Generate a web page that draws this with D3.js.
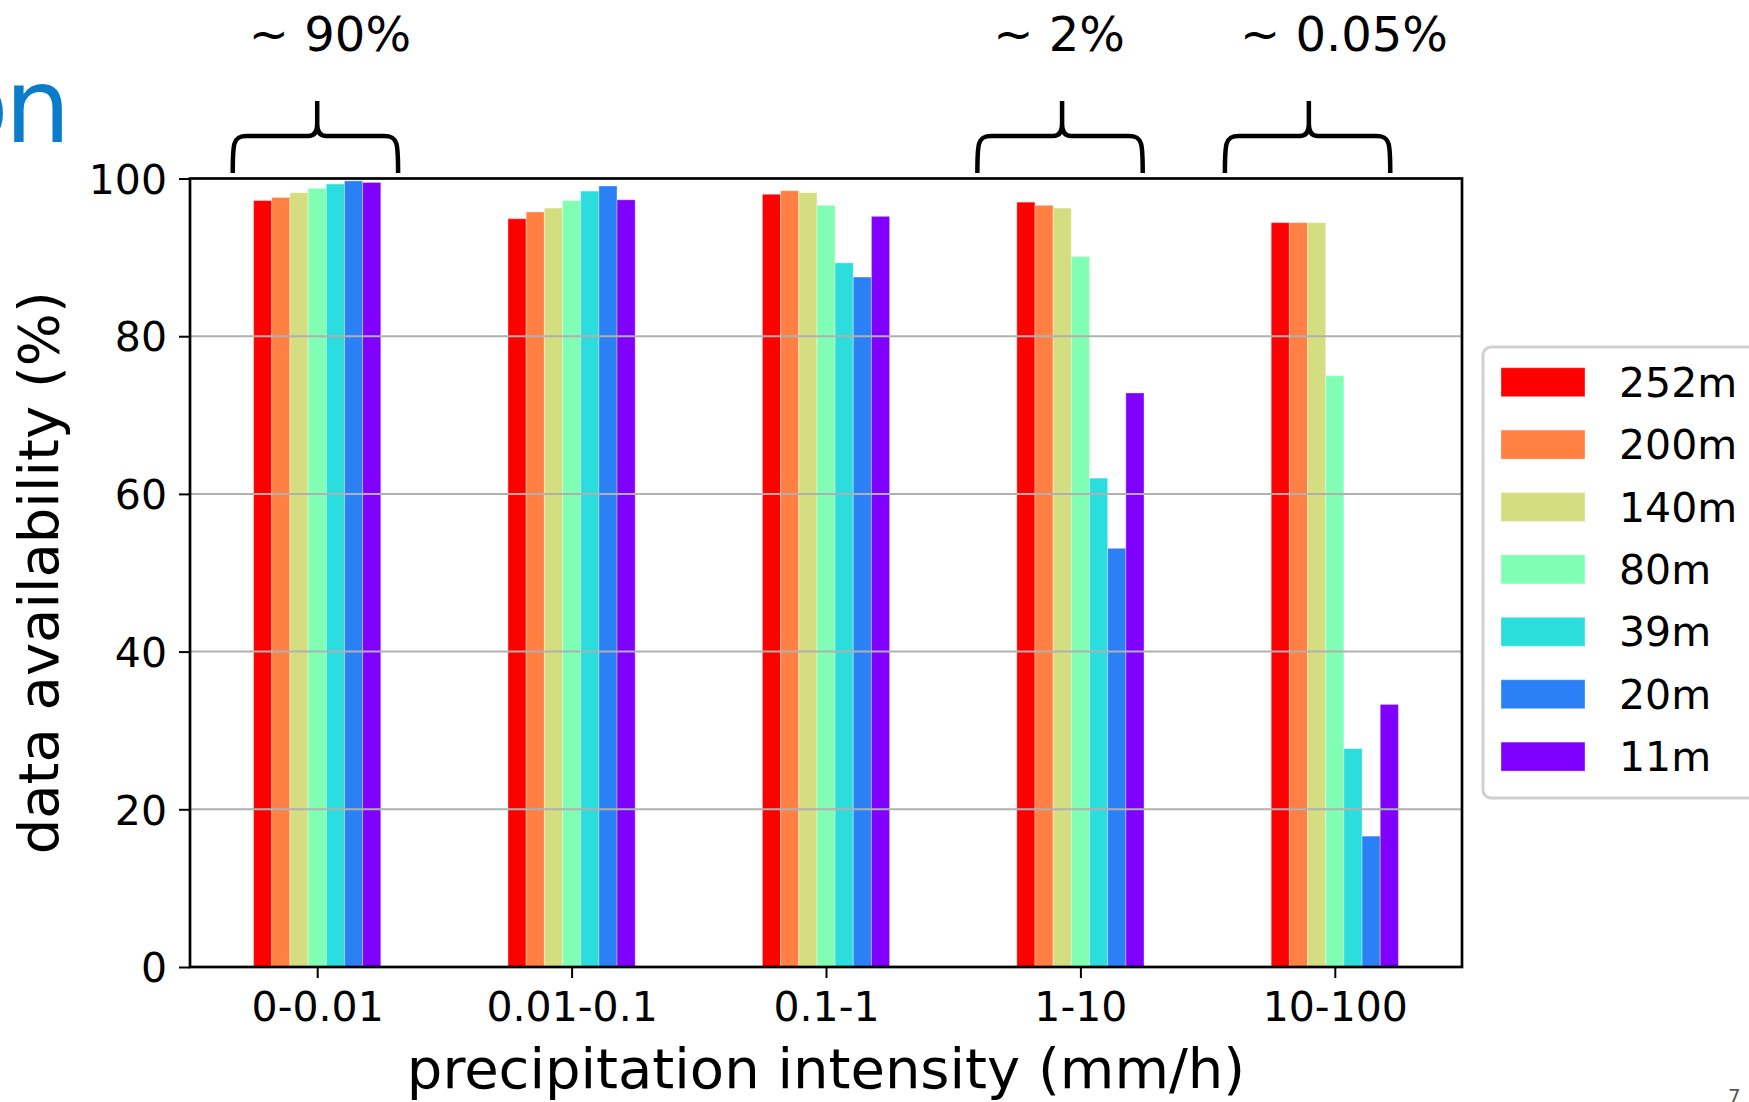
<!DOCTYPE html>
<html>
<head>
<meta charset="utf-8">
<script src="https://cdn.jsdelivr.net/npm/d3@7"></script>
<style>
  html, body { margin: 0; padding: 0; background: #fff; }
  svg { display: block; font-family: "DejaVu Sans", sans-serif; }
</style>
</head>
<body>
<svg id="chart" width="1749" height="1102"></svg>
<script>
// Precipitation-intensity classes on the x axis
const categories = ["0-0.01", "0.01-0.1", "0.1-1", "1-10", "10-100"];

// Measurement heights (one bar per height in each class)
const heights = ["252m", "200m", "140m", "80m", "39m", "20m", "11m"];

// Data availability (%) per height, one value per intensity class
const avail252 = [97.2, 94.9, 98.0, 97.0, 94.4];
const avail200 = [97.6, 95.75, 98.45, 96.6, 94.4];
const avail140 = [98.2, 96.25, 98.2, 96.25, 94.4];
const avail80  = [98.75, 97.2, 96.6, 90.1, 75.0];
const avail39  = [99.3, 98.4, 89.3, 62.0, 27.7];
const avail20  = [99.7, 99.05, 87.5, 53.1, 16.6];
const avail11  = [99.5, 97.3, 95.2, 72.8, 33.3];
const series = [avail252, avail200, avail140, avail80, avail39, avail20, avail11];

// y tick values
const yTicks = [0, 20, 40, 60, 80, 100];

// Share of time in each class, shown above the plot with a brace
const shareLabels = ["~ 90%", "~ 2%", "~ 0.05%"];
const shareCenters = [-0.007, 2.92, 3.893];   // brace centre (class units)
const shareTips = [0.0, 2.928, 3.898];        // brace tip (class units)
const shareTextPos = [0.05, 2.916, 4.036];    // label centre (class units)

// Matplotlib "rainbow" colours, red at the top height
const colors = ["#ff0000", "#ff8042", "#d4dd80", "#80ffb4", "#2bdddd", "#2b80f6", "#8000ff"];

const svg = d3.select("#chart");
const plot = { left: 190, right: 1462, top: 178.5, bottom: 967 };

const x = d3.scaleLinear().domain([-0.5, categories.length - 0.5]).range([plot.left, plot.right]);
const y = d3.scaleLinear().domain([0, 100]).range([plot.bottom, plot.top]);
const groupWidth = 0.5;
const barW = groupWidth / heights.length;

// partial slide title in the top-left corner
svg.append("text")
  .attr("x", -55).attr("y", 142)
  .attr("font-size", 104)
  .attr("letter-spacing", -4)
  .attr("fill", "#0a7cc9")
  .text("on");

// bars
const barG = svg.append("g");
series.forEach((vals, si) => {
  barG.selectAll(null)
    .data(vals)
    .enter().append("rect")
    .attr("x", (d, ci) => x(ci + (si - (heights.length - 1) / 2) * barW - barW / 2))
    .attr("width", x(barW) - x(0))
    .attr("y", d => y(d))
    .attr("height", d => y(0) - y(d))
    .attr("fill", colors[si])
    .attr("stroke", "#ffffff")
    .attr("stroke-opacity", 0.35)
    .attr("stroke-width", 1);
});

// horizontal grid over the bars
svg.append("g")
  .selectAll("line")
  .data(yTicks.filter(t => t > 0 && t < 100))
  .enter().append("line")
  .attr("x1", plot.left).attr("x2", plot.right)
  .attr("y1", d => y(d)).attr("y2", d => y(d))
  .attr("stroke", "#b0b0b0")
  .attr("stroke-width", 2);

// frame
svg.append("rect")
  .attr("x", plot.left).attr("y", plot.top)
  .attr("width", plot.right - plot.left).attr("height", plot.bottom - plot.top)
  .attr("fill", "none").attr("stroke", "#000").attr("stroke-width", 2.7);

// y axis
const yAxis = svg.append("g")
  .attr("transform", `translate(${plot.left},0)`)
  .call(d3.axisLeft(y).tickValues(yTicks).tickSize(11).tickPadding(12).tickFormat(d3.format("d")));
yAxis.select(".domain").remove();
yAxis.selectAll(".tick line").attr("stroke", "#000").attr("stroke-width", 2);
yAxis.selectAll(".tick text").attr("font-size", 41).attr("fill", "#000")
  .attr("font-family", "DejaVu Sans, sans-serif").attr("dy", "0.36em");

// x axis
const xAxis = svg.append("g")
  .attr("transform", `translate(0,${plot.bottom})`)
  .call(d3.axisBottom(x).tickValues(d3.range(categories.length)).tickSize(11).tickPadding(14)
    .tickFormat(i => categories[i]));
xAxis.select(".domain").remove();
xAxis.selectAll(".tick line").attr("stroke", "#000").attr("stroke-width", 2);
xAxis.selectAll(".tick text").attr("font-size", 41).attr("fill", "#000")
  .attr("font-family", "DejaVu Sans, sans-serif").attr("dy", "0.71em");

// axis titles
svg.append("text")
  .attr("x", (plot.left + plot.right) / 2).attr("y", 1088)
  .attr("text-anchor", "middle").attr("font-size", 56)
  .text("precipitation intensity (mm/h)");
svg.append("text")
  .attr("transform", `translate(58,${(plot.top + plot.bottom) / 2}) rotate(-90)`)
  .attr("text-anchor", "middle").attr("font-size", 56)
  .text("data availability (%)");

// braces with shares
const halfBrace = 0.325;
const yTipTop = 101, yBar = 136, yEnd = 173;
function bracePath(l, r, t) {
  const c = 14;
  return `M${l},${yEnd} C${l},${yBar + 8} ${l},${yBar} ${l + c},${yBar} ` +
         `L${t - 9},${yBar} Q${t},${yBar} ${t},${yBar - 12} L${t},${yTipTop} ` +
         `M${t},${yBar - 12} Q${t},${yBar} ${t + 9},${yBar} ` +
         `L${r - c},${yBar} C${r},${yBar} ${r},${yBar + 8} ${r},${yEnd}`;
}
shareLabels.forEach((lab, i) => {
  svg.append("path")
    .attr("d", bracePath(x(shareCenters[i] - halfBrace), x(shareCenters[i] + halfBrace), x(shareTips[i])))
    .attr("fill", "none").attr("stroke", "#000").attr("stroke-width", 4.5)
    .attr("stroke-linejoin", "round");
  svg.append("text")
    .attr("x", x(shareTextPos[i])).attr("y", 51)
    .attr("text-anchor", "middle").attr("font-size", 48)
    .text(lab);
});

// legend
const lg = svg.append("g");
lg.append("rect")
  .attr("x", 1483).attr("y", 347).attr("width", 300).attr("height", 451)
  .attr("rx", 8).attr("fill", "#fff").attr("fill-opacity", 0.8)
  .attr("stroke", "#d0d0d0").attr("stroke-width", 3);
heights.forEach((h, i) => {
  const yy = 367.7 + i * 62.4;
  lg.append("rect")
    .attr("x", 1501).attr("y", yy).attr("width", 84).attr("height", 29)
    .attr("fill", colors[i]).attr("stroke", "#fff").attr("stroke-opacity", 0.35);
  lg.append("text")
    .attr("x", 1619).attr("y", yy + 29).attr("font-size", 41)
    .text(h);
});

// slide number
svg.append("text")
  .attr("x", 1728).attr("y", 1103).attr("font-size", 20).attr("fill", "#555")
  .text("7");
</script>
</body>
</html>
